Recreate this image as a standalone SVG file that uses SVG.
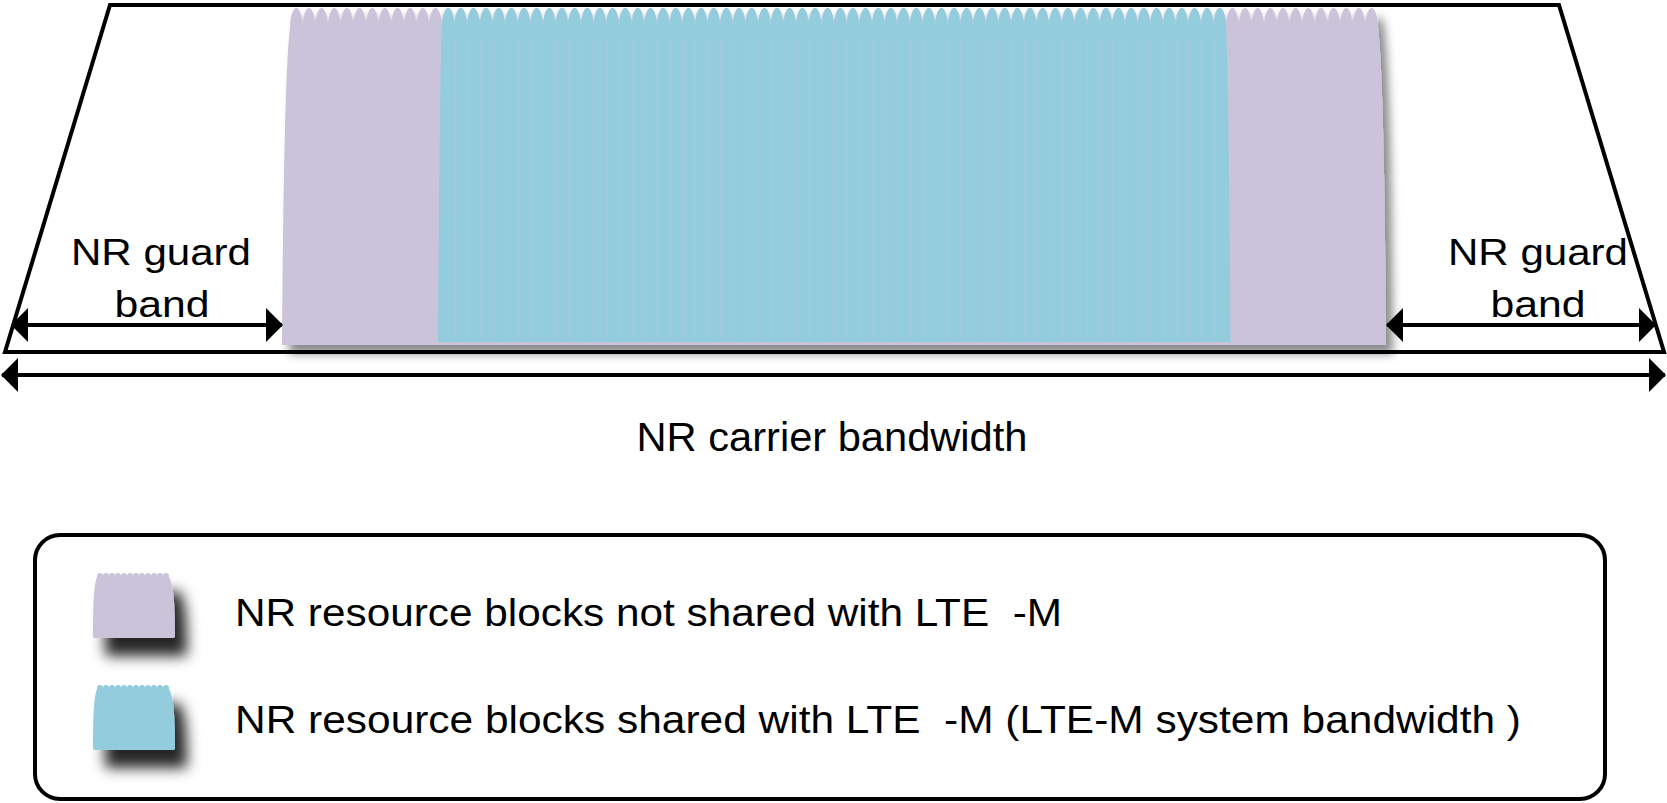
<svg xmlns="http://www.w3.org/2000/svg" width="1667" height="803" viewBox="0 0 1667 803">
<style>
.t{font-family:"Liberation Sans",Arial,sans-serif;fill:#000;white-space:pre}
.ln{fill:none;stroke:#000;stroke-width:4}
.pur{fill:#cbc3da}
.cyn{fill:#93cddd}
</style>
<defs>
<filter id="sh" x="-5%" y="-10%" width="115%" height="130%">
<feDropShadow dx="7" dy="9" stdDeviation="5" flood-color="#000" flood-opacity="0.45"/>
</filter>
<filter id="shi" x="-40%" y="-40%" width="200%" height="200%">
<feDropShadow dx="12" dy="18" stdDeviation="7" flood-color="#000" flood-opacity="0.85"/>
</filter>
<pattern id="lobeP" patternUnits="userSpaceOnUse" x="290" y="8" width="12.65" height="21">
<path class="pur" d="M0 19A6.325 19 0 0 1 12.65 19V21H0Z"/>
</pattern>
<pattern id="lobeC" patternUnits="userSpaceOnUse" x="441.8" y="8" width="12.65" height="21">
<path class="cyn" d="M0 19A6.325 19 0 0 1 12.65 19V21H0Z"/>
</pattern>
<pattern id="lines" patternUnits="userSpaceOnUse" x="441.8" y="0" width="12.65" height="400">
<path d="M0.5 0V400" stroke="#cbb9d9" stroke-width="1" opacity="0.4"/>
</pattern>
<pattern id="lobeIP" patternUnits="userSpaceOnUse" x="97" y="573" width="6" height="5">
<path class="pur" d="M0 3A3 3 0 0 1 6 3V5H0Z"/>
</pattern>
<pattern id="lobeIC" patternUnits="userSpaceOnUse" x="97" y="685" width="6" height="5">
<path class="cyn" d="M0 3A3 3 0 0 1 6 3V5H0Z"/>
</pattern>
<marker id="ah" viewBox="0 0 17 34" refX="16" refY="17" markerWidth="17" markerHeight="34" markerUnits="userSpaceOnUse" orient="auto-start-reverse">
<path d="M0 0L17 17L0 34Z" fill="#000"/>
</marker>
</defs>
<g id="spectrum">
<g id="rb-not-shared" filter="url(#sh)">
<path class="pur" d="M282 345C283 200 285 70 290 27L1378 27C1383 70 1385 200 1386 345Z"/>
<rect x="290" y="8" width="1088" height="21" fill="url(#lobeP)"/>
</g>
<g id="rb-shared">
<path class="cyn" d="M438 342C439 200 440 70 441.8 27L1226.1 27C1228 70 1229.5 200 1230.5 342Z"/>
<rect x="441.8" y="8" width="784.3" height="21" fill="url(#lobeC)"/>
<rect x="445" y="40" width="780" height="298" fill="url(#lines)"/>
</g>
</g>
<g id="frame">
<path class="ln" d="M110 5L1559 5L1664 352L5 352Z" stroke-linejoin="miter"/>
</g>
<g id="connectors">
<line x1="12" y1="325" x2="282" y2="325" stroke="#000" stroke-width="4" marker-start="url(#ah)" marker-end="url(#ah)"/>
<line x1="1387" y1="325" x2="1655" y2="325" stroke="#000" stroke-width="4" marker-start="url(#ah)" marker-end="url(#ah)"/>
<line x1="2" y1="375" x2="1665" y2="375" stroke="#000" stroke-width="4" marker-start="url(#ah)" marker-end="url(#ah)"/>
</g>
<g id="label-guard-left">
<text class="t" x="161" y="265" font-size="37" text-anchor="middle" textLength="180" lengthAdjust="spacingAndGlyphs">NR guard</text>
<text class="t" x="162" y="317" font-size="37" text-anchor="middle" textLength="95" lengthAdjust="spacingAndGlyphs">band</text>
</g>
<g id="label-guard-right">
<text class="t" x="1538" y="265" font-size="37" text-anchor="middle" textLength="180" lengthAdjust="spacingAndGlyphs">NR guard</text>
<text class="t" x="1538" y="317" font-size="37" text-anchor="middle" textLength="95" lengthAdjust="spacingAndGlyphs">band</text>
</g>
<g id="label-carrier">
<text class="t" x="832" y="451" font-size="41" text-anchor="middle" textLength="391" lengthAdjust="spacingAndGlyphs">NR carrier bandwidth</text>
</g>
<g id="legend">
<rect x="35" y="535" width="1570" height="264" rx="25" fill="#fff" stroke="#000" stroke-width="4"/>
<g id="legend-icon-not-shared" filter="url(#shi)">
<path class="pur" d="M93 636C93 600 94 585 97 577L169 577C173 585 175 600 175 636Q175 638 173 638L95 638Q93 638 93 636Z"/>
<rect x="97" y="573" width="72" height="5" fill="url(#lobeIP)"/>
</g>
<g id="legend-icon-shared" filter="url(#shi)">
<path class="cyn" d="M93 748C93 712 94 697 97 689L169 689C173 697 175 712 175 748Q175 750 173 750L95 750Q93 750 93 748Z"/>
<rect x="97" y="685" width="72" height="5" fill="url(#lobeIC)"/>
</g>
<text class="t" x="235" y="626" font-size="38" textLength="827" lengthAdjust="spacingAndGlyphs">NR resource blocks not shared with LTE  -M</text>
<text class="t" x="235" y="733" font-size="38" textLength="1286" lengthAdjust="spacingAndGlyphs">NR resource blocks shared with LTE  -M (LTE-M system bandwidth )</text>
</g>
</svg>
